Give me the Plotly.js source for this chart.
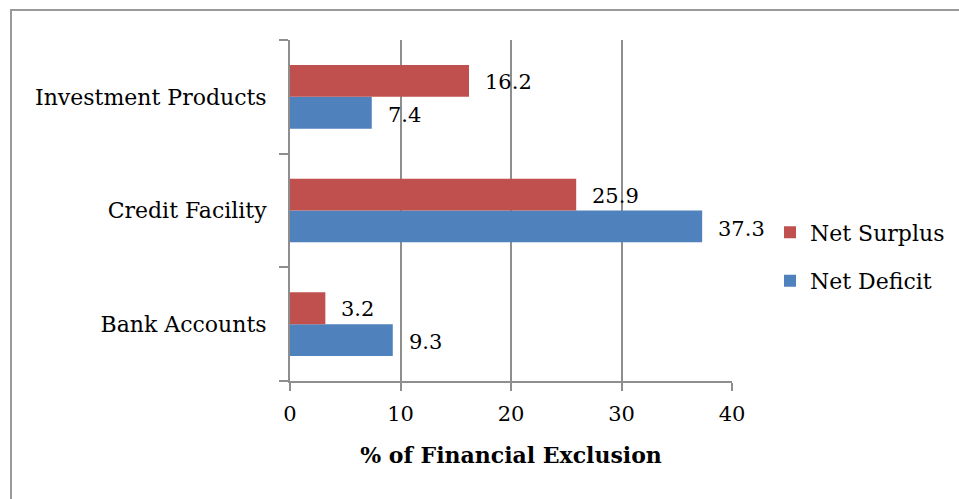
<!DOCTYPE html>
<html>
<head>
<meta charset="utf-8">
<script src="https://cdn.plot.ly/plotly-3.0.1.min.js"></script>
<style>html,body{margin:0;padding:0;background:#fff;}#chart{width:959px;height:499px;}</style>
</head>
<body>
<div id="chart"></div>
<script>
const categories = ['Bank Accounts', 'Credit Facility', 'Investment Products'];
const netDeficit = [9.3, 37.3, 7.4];
const netSurplus = [3.2, 25.9, 16.2];
const seriesNames = ['Net Deficit', 'Net Surplus'];
const xTicks = [0, 10, 20, 30, 40];
const xTitle = '% of Financial Exclusion';

const FONT = 'DejaVu Serif';
const FS = 21;
const FL = 22;
const grey = '#8e8e8e';

const traces = [
  {type: 'bar', orientation: 'h', name: seriesNames[0], y: categories, x: netDeficit,
   marker: {color: '#4F81BD', line: {width: 0}}, legendgroup: 'a', legendrank: 2, hoverinfo: 'x'},
  {type: 'bar', orientation: 'h', name: seriesNames[1], y: categories, x: netSurplus,
   marker: {color: '#C0504D', line: {width: 0}}, legendgroup: 'b', legendrank: 1, hoverinfo: 'x'}
];

const annotations = [];
[[netDeficit, -18], [netSurplus, 15]].forEach(([vals, ys]) => {
  vals.forEach((v, i) => {
    annotations.push({x: v, y: categories[i], xref: 'x', yref: 'y', text: v.toFixed(1),
      showarrow: false, xanchor: 'left', yanchor: 'middle', xshift: 14, yshift: ys,
      font: {family: FONT, size: FS, color: '#000'}});
  });
});

const layout = {
  width: 959, height: 499,
  margin: {l: 290, r: 227, t: 40, b: 118, autoexpand: false},
  paper_bgcolor: '#fff', plot_bgcolor: '#fff',
  font: {family: FONT, size: FS, color: '#000'},
  barmode: 'group', bargap: 0.44, bargroupgap: 0,
  showlegend: true,
  legend: {x: 1.086, y: 0.364, xanchor: 'left', yanchor: 'middle', traceorder: 'grouped',
    tracegroupgap: 17, font: {family: FONT, size: FL, color: '#000'}, itemwidth: 30,
    bgcolor: 'rgba(0,0,0,0)'},
  xaxis: {range: [0, 40], tickvals: xTicks, ticktext: xTicks.map(String),
    showgrid: true, gridcolor: grey, gridwidth: 2, zeroline: false,
    showline: true, linecolor: grey, linewidth: 2,
    ticks: 'outside', ticklen: 8, tickcolor: grey, tickwidth: 2,
    tickfont: {family: FONT, size: FS}, fixedrange: true, ticklabelstandoff: 5,
    title: {text: '<b>' + xTitle + '</b>', font: {family: FONT, size: FL}, standoff: 22}},
  yaxis: {type: 'category', categoryorder: 'array', categoryarray: categories,
    showline: true, linecolor: grey, linewidth: 2, showgrid: false, zeroline: false,
    ticks: 'outside', tickson: 'boundaries', ticklen: 9, tickcolor: grey, tickwidth: 2,
    tickfont: {family: FONT, size: FL}, fixedrange: true, ticklabelstandoff: 17},
  annotations: annotations,
  shapes: [{type: 'rect', xref: 'paper', yref: 'paper',
    x0: (11 - 290) / 442, x1: (1000 - 290) / 442,
    y0: (381 - 520) / 341, y1: (381 - 10) / 341,
    line: {color: '#9a9a9a', width: 2}, fillcolor: 'rgba(0,0,0,0)', layer: 'below'}]
};

Plotly.newPlot('chart', traces, layout, {displayModeBar: false, staticPlot: true});
</script>
</body>
</html>
